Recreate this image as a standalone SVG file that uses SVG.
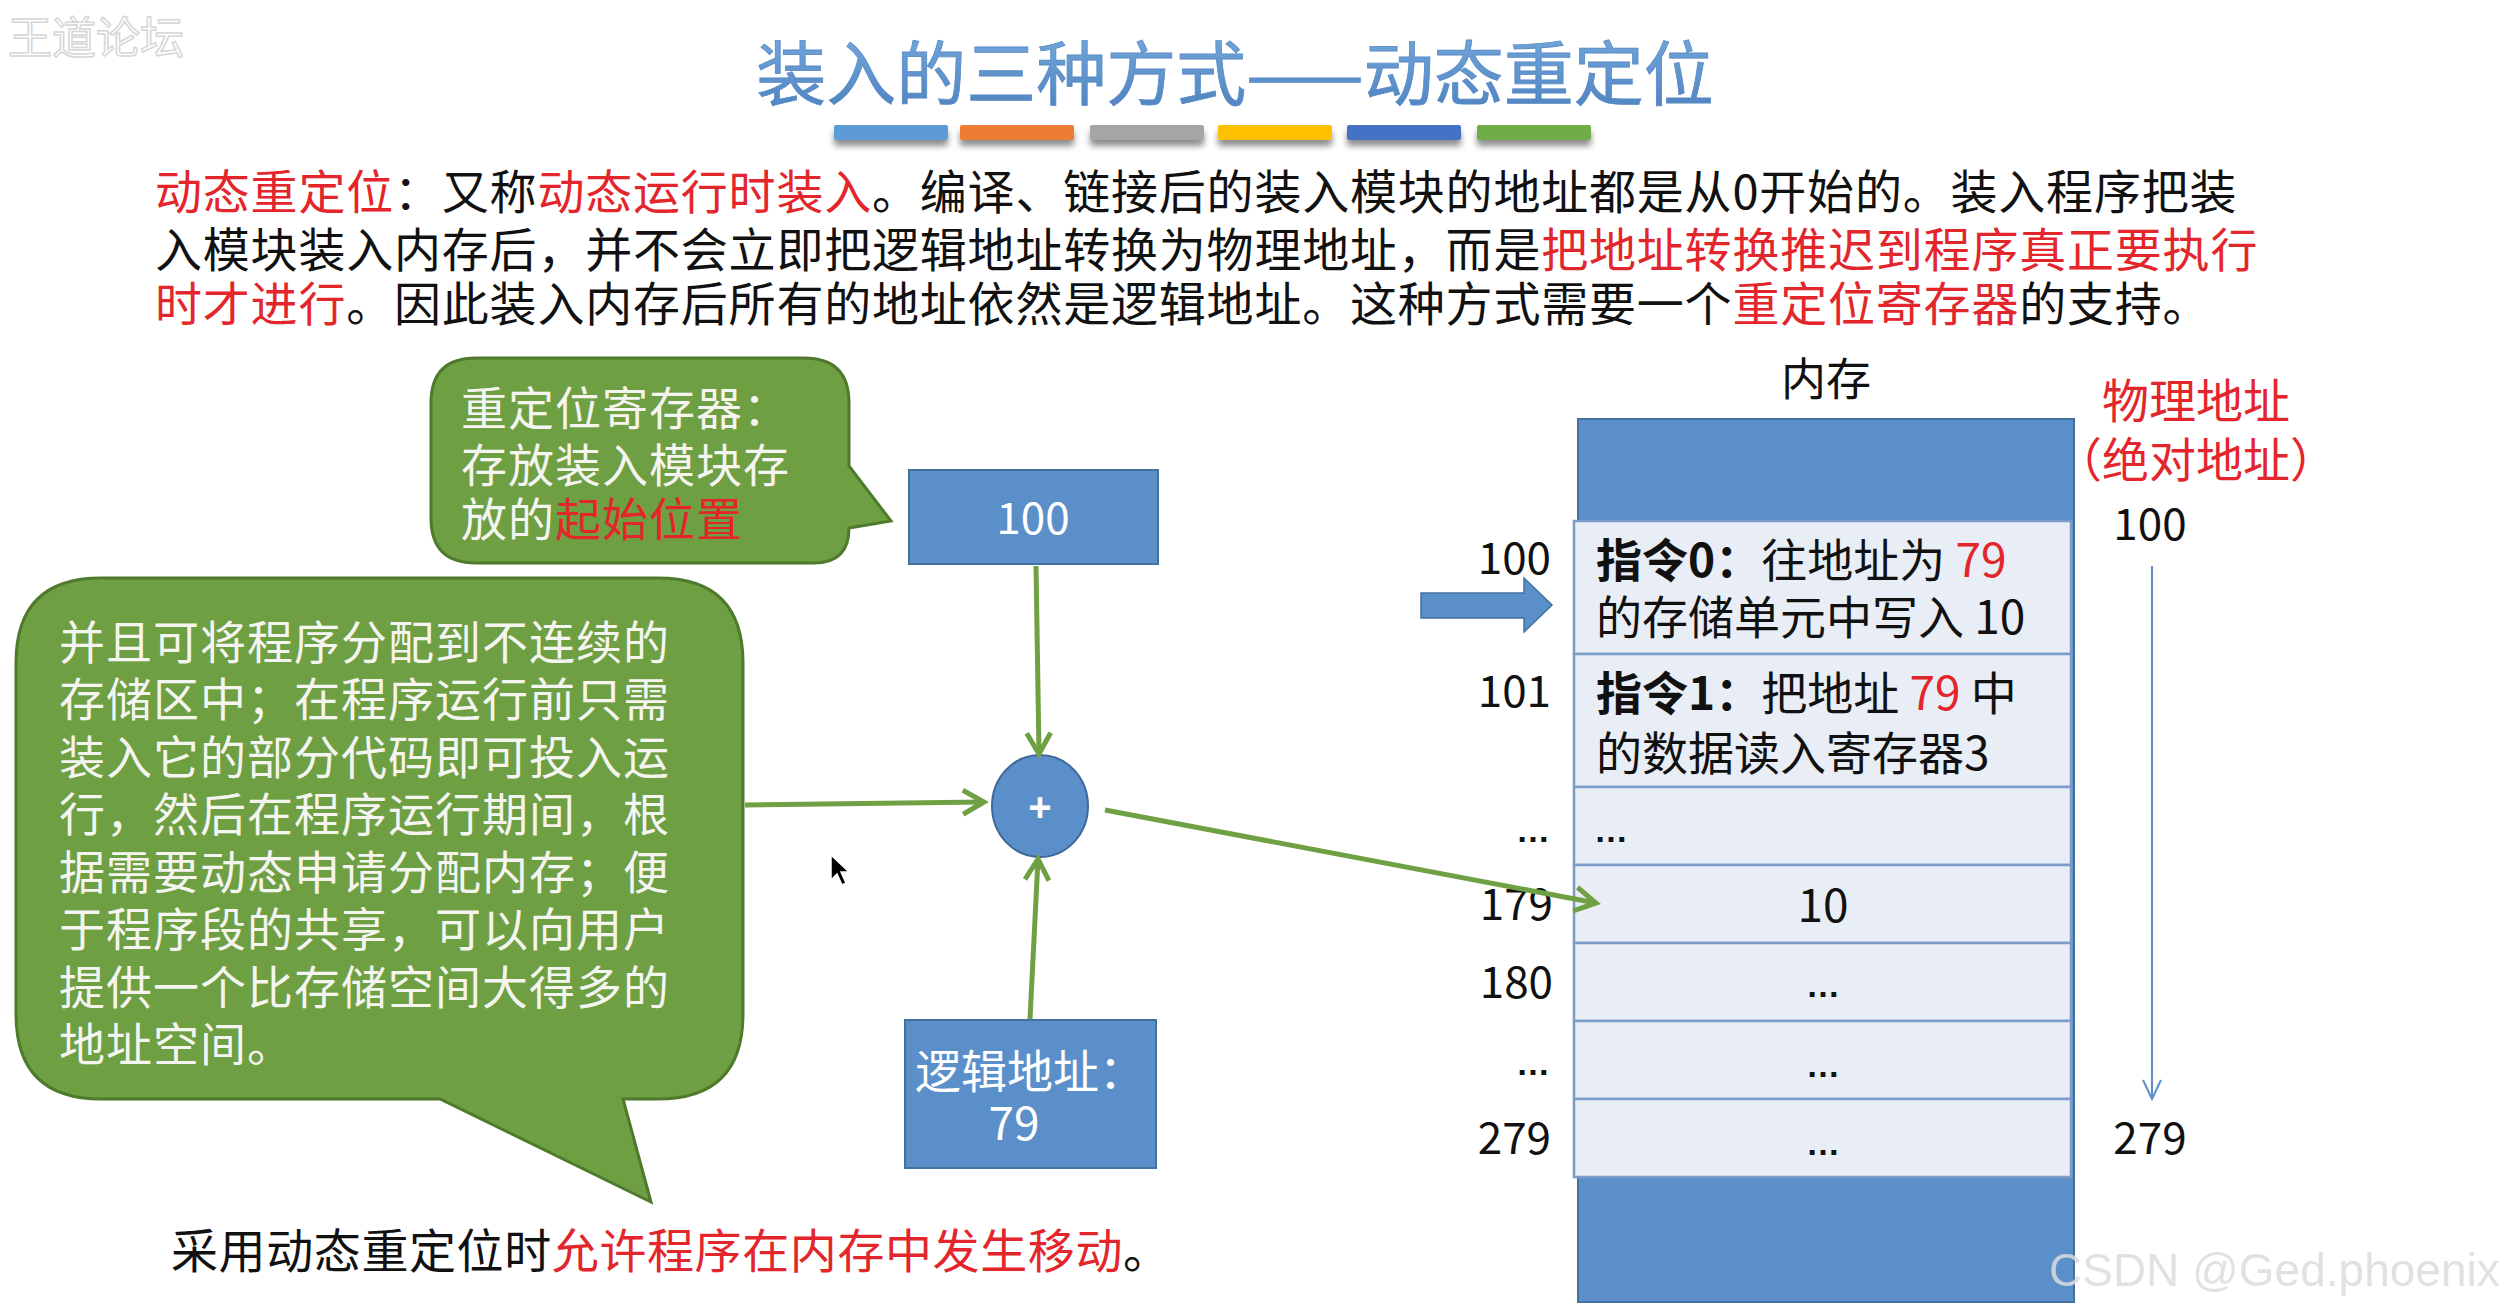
<svg xmlns="http://www.w3.org/2000/svg" width="2504" height="1309" viewBox="0 0 2504 1309">
<style>
.cjk{font-family:"Noto Sans CJK SC","Noto Sans",sans-serif;}
.para{font-size:47px;letter-spacing:0.8px;fill:#111;}
.red{fill:#e3262b;}
.wt{fill:#ffffff;}
.bub{font-size:46px;letter-spacing:1px;fill:#f4f4f0;}
.lbl{font-size:44px;fill:#111;}
.cell{font-size:46px;fill:#111;}
.dots{font-family:"Liberation Sans",Arial,sans-serif;font-size:34px;font-weight:bold;fill:#111;}
.b{font-weight:bold;}
.box{fill:#5b8fca;stroke:#41719c;stroke-width:2;}
.callout{fill:#6e9f42;stroke:#4f7a2c;stroke-width:3;}
.row{fill:#e9edf5;stroke:#7b9bc9;stroke-width:2.5;}
.conn{stroke:#6fa044;stroke-width:5;fill:none;marker-end:url(#chev);}
</style>
<defs>
<marker id="chev" markerUnits="userSpaceOnUse" viewBox="0 0 30 30" markerWidth="30" markerHeight="30" refX="24" refY="15" orient="auto">
<path d="M3,3 L24,15 L3,27" fill="none" stroke="#6fa044" stroke-width="5" stroke-linejoin="miter"/>
</marker>
<marker id="thin" markerUnits="userSpaceOnUse" viewBox="0 0 24 24" markerWidth="24" markerHeight="24" refX="22" refY="12" orient="auto">
<path d="M3,3 L22,12 L3,21" fill="none" stroke="#5b8fca" stroke-width="2"/>
</marker>
<linearGradient id="tg" x1="0" y1="0" x2="0" y2="1">
<stop offset="0" stop-color="#79aee0"/>
<stop offset="1" stop-color="#4a7fbe"/>
</linearGradient>
<filter id="sh" x="-10%" y="-50%" width="120%" height="250%">
<feGaussianBlur in="SourceAlpha" stdDeviation="3"/>
<feOffset dy="6"/>
<feComponentTransfer><feFuncA type="linear" slope="0.45"/></feComponentTransfer>
<feMerge><feMergeNode/><feMergeNode in="SourceGraphic"/></feMerge>
</filter>
</defs>
<rect width="2504" height="1309" fill="#ffffff"/>

<!-- watermark top-left -->
<text x="8" y="54" class="cjk" font-size="44" fill="#ffffff" stroke="#d6d6d6" stroke-width="1.5">王道论坛</text>

<!-- title -->
<g id="title">
<text x="1235" y="100" class="cjk" font-size="70" fill="url(#tg)" text-anchor="middle" stroke="#5a8ac4" stroke-width="0.8">装入的三种方式——动态重定位</text>
<g filter="url(#sh)">
<rect x="834" y="125" width="114" height="15" rx="2" fill="#5b9bd5"/>
<rect x="960" y="125" width="114" height="15" rx="2" fill="#ed7d31"/>
<rect x="1090" y="125" width="114" height="15" rx="2" fill="#a5a5a5"/>
<rect x="1218" y="125" width="114" height="15" rx="2" fill="#ffc000"/>
<rect x="1347" y="125" width="114" height="15" rx="2" fill="#4472c4"/>
<rect x="1477" y="125" width="114" height="15" rx="2" fill="#70ad47"/>
</g>
</g>

<!-- paragraph -->
<g id="intro" class="cjk para">
<text x="155" y="209"><tspan class="red">动态重定位</tspan>：又称<tspan class="red">动态运行时装入</tspan>。编译、链接后的装入模块的地址都是从0开始的。装入程序把装</text>
<text x="155" y="267">入模块装入内存后，并不会立即把逻辑地址转换为物理地址，而是<tspan class="red">把地址转换推迟到程序真正要执行</tspan></text>
<text x="155" y="321"><tspan class="red">时才进行</tspan>。因此装入内存后所有的地址依然是逻辑地址。这种方式需要一个<tspan class="red">重定位寄存器</tspan>的支持。</text>
</g>

<!-- callout: relocation register -->
<g id="callout-register">
<path class="callout" d="M476,358 H804 Q849,358 849,403 V466 L891,521 L849,528 Q849,563 814,563 H476 Q431,563 431,518 V403 Q431,358 476,358 Z"/>
<g class="cjk bub">
<text x="461" y="425">重定位寄存器：</text>
<text x="461" y="482">存放装入模块存</text>
<text x="461" y="536">放的<tspan class="red">起始位置</tspan></text>
</g>
</g>

<!-- callout: big -->
<g id="callout-big">
<path class="callout" d="M101,578 H658 Q743,578 743,663 V1014 Q743,1099 658,1099 H623 L651,1202 L440,1099 H101 Q16,1099 16,1014 V663 Q16,578 101,578 Z"/>
<g class="cjk bub" font-size="47">
<text x="59" y="659">并且可将程序分配到不连续的</text>
<text x="59" y="716">存储区中；在程序运行前只需</text>
<text x="59" y="774">装入它的部分代码即可投入运</text>
<text x="59" y="831">行，然后在程序运行期间，根</text>
<text x="59" y="889">据需要动态申请分配内存；便</text>
<text x="59" y="946">于程序段的共享，可以向用户</text>
<text x="59" y="1004">提供一个比存储空间大得多的</text>
<text x="59" y="1061">地址空间。</text>
</g>
</g>

<!-- register box -->
<g id="register-box">
<rect class="box" x="909" y="470" width="249" height="94"/>
<text x="1033" y="534" class="cjk wt" font-size="44" text-anchor="middle">100</text>
</g>

<!-- adder -->
<g id="adder">
<ellipse cx="1040" cy="806" rx="48" ry="51" fill="#5b8fca" stroke="#3f6797" stroke-width="2"/>
<text x="1040" y="821" font-family="'Liberation Sans',sans-serif" font-size="40" font-weight="bold" fill="#ffffff" text-anchor="middle">+</text>
</g>

<!-- logical address box -->
<g id="logical-box">
<rect class="box" x="905" y="1020" width="251" height="148"/>
<text x="1030" y="1088" class="cjk wt" font-size="46" text-anchor="middle">逻辑地址：</text>
<text x="1014" y="1140" class="cjk wt" font-size="46" text-anchor="middle">79</text>
</g>

<!-- memory -->
<g id="memory">
<text x="1826" y="396" class="cjk" font-size="45" fill="#111" text-anchor="middle">内存</text>
<rect class="box" x="1578" y="419" width="496" height="883"/>
<rect class="row" x="1574" y="521" width="497" height="133"/>
<rect class="row" x="1574" y="654" width="497" height="133"/>
<rect class="row" x="1574" y="787" width="497" height="78"/>
<rect class="row" x="1574" y="865" width="497" height="78"/>
<rect class="row" x="1574" y="943" width="497" height="78"/>
<rect class="row" x="1574" y="1021" width="497" height="78"/>
<rect class="row" x="1574" y="1099" width="497" height="78"/>
<g class="cjk cell">
<text x="1596" y="577"><tspan class="b">指令0：</tspan>往地址为 <tspan class="red">79</tspan></text>
<text x="1596" y="634">的存储单元中写入 10</text>
<text x="1596" y="710"><tspan class="b">指令1：</tspan>把地址 <tspan class="red">79</tspan> 中</text>
<text x="1596" y="770">的数据读入寄存器3</text>
<text x="1823" y="922" text-anchor="middle">10</text>
</g>
<g class="dots">
<text x="1594" y="842">…</text>
<text x="1823" y="997" text-anchor="middle">…</text>
<text x="1823" y="1077" text-anchor="middle">…</text>
<text x="1823" y="1155" text-anchor="middle">…</text>
<text x="1550" y="842" text-anchor="end">…</text>
<text x="1550" y="1075" text-anchor="end">…</text>
</g>
<g class="cjk lbl" text-anchor="end">
<text x="1551" y="574">100</text>
<text x="1551" y="707">101</text>
<text x="1553" y="920">179</text>
<text x="1553" y="998">180</text>
<text x="1551" y="1154">279</text>
</g>
<polygon points="1421,593 1524,593 1524,578 1552,605 1524,632 1524,618 1421,618" fill="#5b8fca" stroke="#41719c" stroke-width="1.5"/>
</g>

<!-- physical address -->
<g id="physical">
<text x="2196" y="418" class="cjk red" font-size="47" text-anchor="middle">物理地址</text>
<text x="2196" y="477" class="cjk red" font-size="47" text-anchor="middle">（绝对地址）</text>
<text x="2150" y="540" class="cjk lbl" text-anchor="middle">100</text>
<text x="2150" y="1154" class="cjk lbl" text-anchor="middle">279</text>
</g>

<!-- connectors -->
<g id="connectors">
<line class="conn" x1="1036" y1="566" x2="1039" y2="754"/>
<line class="conn" x1="745" y1="805" x2="984" y2="802"/>
<line class="conn" x1="1030" y1="1019" x2="1038" y2="859"/>
<line class="conn" x1="1105" y1="810" x2="1596" y2="903"/>
<line x1="2152" y1="566" x2="2152" y2="1099" stroke="#5b8fca" stroke-width="2" marker-end="url(#thin)"/>
</g>

<!-- bottom note -->
<text x="171" y="1268" class="cjk" font-size="47" letter-spacing="0.6" fill="#111">采用动态重定位时<tspan class="red">允许程序在内存中发生移动</tspan>。</text>

<!-- cursor -->
<path d="M831,855 L831,880 L837,874 L842,885 L846,883 L841,872 L849,872 Z" fill="#000" stroke="#fff" stroke-width="1.5"/>

<!-- watermark -->
<text x="2049" y="1286" font-family="'Liberation Sans',sans-serif" font-size="46" fill="#dcdcdc" opacity="0.85">CSDN @Ged.phoenix</text>
</svg>
